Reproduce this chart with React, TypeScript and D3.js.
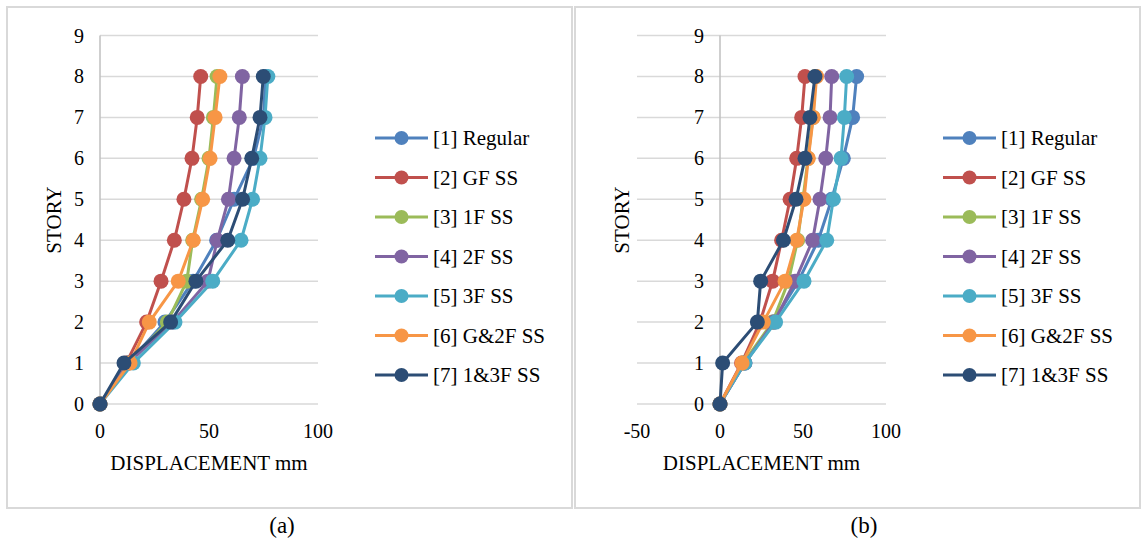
import React from "react";
import * as d3 from "d3";

const stories = [0, 1, 2, 3, 4, 5, 6, 7, 8];
const seriesNames = ["[1] Regular", "[2] GF SS", "[3] 1F SS", "[4] 2F SS", "[5] 3F SS", "[6] G&2F SS", "[7] 1&3F SS"];
const seriesColors = ["#4F81BD", "#C0504D", "#9BBB59", "#8064A2", "#4BACC6", "#F79646", "#2C4D75"];

// Chart (a) displacement values per story 0..8
const aRegular = [0, 13, 29.8, 42.7, 53.5, 61.5, 70.4, 75, 76];
const aGF = [0, 12, 21.4, 28, 34.1, 38.5, 42.2, 44.6, 46.2];
const a1F = [0, 13, 30.9, 39.8, 42.5, 46.6, 50, 52, 53.7];
const a2F = [0, 13, 33.3, 49.5, 53.8, 58.9, 61.5, 63.9, 65.3];
const a3F = [0, 15.3, 34.4, 51.7, 64.7, 70, 73.4, 75.7, 77];
const aG2F = [0, 13.8, 22.6, 35.9, 42.8, 47.1, 50.5, 52.8, 55];
const a13F = [0, 11, 32.4, 44, 58.6, 65.4, 69.6, 73.4, 74.9];

// Chart (b)
const bRegular = [0, 15, 32, 47.2, 59.2, 67.3, 74.3, 79.9, 82.3];
const bGF = [0, 13, 24.1, 31.7, 37.1, 42.2, 46.2, 49.2, 51.2];
const b1F = [0, 14, 31.7, 41.2, 46.8, 50, 53, 56, 57.5];
const b2F = [0, 15, 32.5, 45.2, 55.8, 60.2, 63.7, 66.3, 67.3];
const b3F = [0, 15, 33.5, 50.6, 64.3, 68.3, 72.9, 74.9, 76.3];
const bG2F = [0, 13.3, 26.1, 39.2, 46.2, 50.6, 53.2, 56.2, 58.2];
const b13F = [0, 1.6, 22.5, 24.5, 38.2, 45.8, 51.2, 54.2, 57.2];

const seriesA = [aRegular, aGF, a1F, a2F, a3F, aG2F, a13F];
const seriesB = [bRegular, bGF, b1F, b2F, b3F, bG2F, b13F];

const yTicks = [0, 1, 2, 3, 4, 5, 6, 7, 8, 9];
const xTicksA = [0, 50, 100];
const xTicksB = [-50, 0, 50, 100];

const FONT = '"Times New Roman", "Liberation Serif", Tinos, Times, serif';

type PanelProps = {
  ox: number;
  data: number[][];
  xDomain: [number, number];
  xRange: [number, number];
  xTicks: number[];
  caption: string;
  captionX: number;
};

function Panel({ ox, data, xDomain, xRange, xTicks, caption, captionX }: PanelProps) {
  const x = d3.scaleLinear().domain(xDomain).range(xRange);
  const y = d3.scaleLinear().domain([0, 9]).range([404, 35.5]);
  const axisX = x(0);
  const line = d3
    .line<[number, number]>()
    .x((d) => x(d[0]))
    .y((d) => y(d[1]));
  const legendX = ox + 368;
  return (
    <g>
      <rect x={ox} y={7} width={565} height={501} fill="#fff" stroke="#D9D9D9" strokeWidth={2} />
      {yTicks.map((t) => (
        <line key={"g" + t} x1={xRange[0]} x2={xRange[1]} y1={y(t)} y2={y(t)} stroke="#D9D9D9" strokeWidth={1.5} />
      ))}
      <line x1={axisX} x2={axisX} y1={y(9)} y2={y(0)} stroke="#BFBFBF" strokeWidth={1.5} />
      {yTicks.map((t) => (
        <text key={"yt" + t} x={axisX - 16} y={y(t)} dy="0.35em" textAnchor="end" fontSize={20}>
          {t}
        </text>
      ))}
      {xTicks.map((t) => (
        <text key={"xt" + t} x={x(t)} y={431} dy="0.35em" textAnchor="middle" fontSize={20}>
          {t}
        </text>
      ))}
      <text x={(xRange[0] + xRange[1]) / 2} y={463} dy="0.35em" textAnchor="middle" fontSize={21}>
        DISPLACEMENT mm
      </text>
      <text transform={`translate(${ox + 47},220) rotate(-90)`} textAnchor="middle" dy="0.35em" fontSize={21}>
        STORY
      </text>
      {data.map((s, i) => {
        const pts: [number, number][] = s.map((v, k) => [v, stories[k]]);
        return (
          <g key={"s" + i}>
            <path d={line(pts) || ""} fill="none" stroke={seriesColors[i]} strokeWidth={3} strokeLinejoin="round" />
            {pts.map((p, k) => (
              <circle key={k} cx={x(p[0])} cy={y(p[1])} r={7.5} fill={seriesColors[i]} />
            ))}
          </g>
        );
      })}
      {seriesNames.map((n, i) => {
        const ly = 138 + i * 39.5;
        return (
          <g key={"l" + i}>
            <line x1={legendX} x2={legendX + 53} y1={ly} y2={ly} stroke={seriesColors[i]} strokeWidth={3} />
            <circle cx={legendX + 26.5} cy={ly} r={7} fill={seriesColors[i]} />
            <text x={legendX + 58} y={ly} dy="0.35em" fontSize={21}>
              {n}
            </text>
          </g>
        );
      })}
      <text x={captionX} y={525} dy="0.35em" textAnchor="middle" fontSize={23}>
        {caption}
      </text>
    </g>
  );
}

export default function App() {
  return (
    <div style={{ position: "absolute", left: 0, top: 0 }}>
      <svg
        width={1141}
        height={544}
        fontFamily={FONT}
        fill="#000"
        style={{ display: "block", background: "#fff", fontFamily: FONT }}
      >
        <rect x={0} y={0} width={1141} height={544} fill="#fff" />
        <Panel ox={7} data={seriesA} xDomain={[0, 100]} xRange={[100, 318]} xTicks={xTicksA} caption="(a)" captionX={282} />
        <Panel ox={575} data={seriesB} xDomain={[-50, 100]} xRange={[637, 886]} xTicks={xTicksB} caption="(b)" captionX={864} />
      </svg>
    </div>
  );
}
